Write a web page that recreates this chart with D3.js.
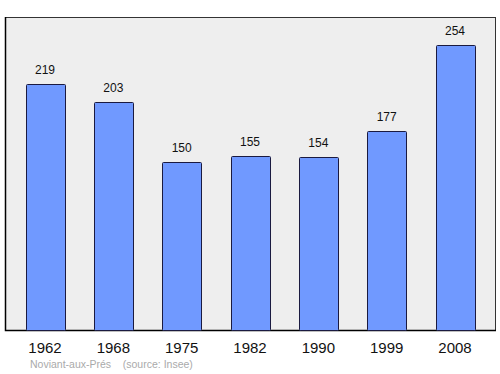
<!DOCTYPE html>
<html>
<head>
<meta charset="utf-8">
<script src="https://cdn.jsdelivr.net/npm/d3@7"></script>
<style>
  body { margin: 0; background: #fff; }
  svg { display: block; font-family: "Liberation Sans", Arial, sans-serif; }
</style>
</head>
<body>
<svg id="chart" width="500" height="374"></svg>
<script>
// data
var years = ["1962", "1968", "1975", "1982", "1990", "1999", "2008"];
var population = [219, 203, 150, 155, 154, 177, 254];
var commune = "Noviant-aux-Prés";
var source = "(source: Insee)";

var svg = d3.select('#chart');
var plotLeft = 5, plotRight = 495, plotTop = 17, plotBottom = 330;

// frame
svg.append('rect')
  .attr('x', plotLeft + 0.5).attr('y', plotTop + 0.5)
  .attr('width', plotRight - plotLeft).attr('height', plotBottom - plotTop)
  .attr('fill', '#eeeeee')
  .attr('stroke', '#333').attr('stroke-width', 1);
svg.append('path')
  .attr('d', 'M' + (plotLeft + 0.5) + ',' + plotTop + 'V' + (plotBottom + 0.5) + 'H' + (plotRight + 1))
  .attr('fill', 'none').attr('stroke', '#000').attr('stroke-width', 1.5);

var x = d3.scaleBand().domain(years).range([plotLeft, plotRight]).paddingInner(0.43).paddingOuter(0.3);
var y = d3.scaleLinear().domain([0, 254]).range([plotBottom, 45]);

var data = years.map(function(yr, i) { return { year: yr, value: population[i] }; });

svg.selectAll('.bar')
  .data(data)
  .enter().append('rect')
  .attr('class', 'bar')
  .attr('x', function(d) { return Math.round(x(d.year)) + 0.5; })
  .attr('y', function(d) { return Math.round(y(d.value)) + 0.5; })
  .attr('width', Math.round(x.bandwidth()))
  .attr('height', function(d) { return plotBottom - Math.round(y(d.value)); })
  .attr('rx', 1)
  .attr('fill', '#7099ff')
  .attr('stroke', '#1a1a40').attr('stroke-width', 1);

svg.selectAll('.val')
  .data(data)
  .enter().append('text')
  .attr('class', 'val')
  .attr('x', function(d) { return x(d.year) + x.bandwidth() / 2; })
  .attr('y', function(d) { return y(d.value) - 10; })
  .attr('text-anchor', 'middle')
  .attr('font-size', 12)
  .attr('fill', '#111')
  .text(function(d) { return d.value; });

// x axis labels
var axis = d3.axisBottom(x).tickSize(0).tickPadding(12);
var g = svg.append('g').attr('transform', 'translate(0,' + plotBottom + ')').call(axis);
g.select('.domain').remove();
g.selectAll('text').attr('font-size', 15).attr('fill', '#111')
  .attr('font-family', '"Liberation Sans", Arial, sans-serif');

svg.append('text')
  .attr('x', 30).attr('y', 368)
  .attr('font-size', 10.5).attr('fill', '#aaa')
  .attr('xml:space', 'preserve')
  .text(commune + '    ' + source);
</script>
</body>
</html>
